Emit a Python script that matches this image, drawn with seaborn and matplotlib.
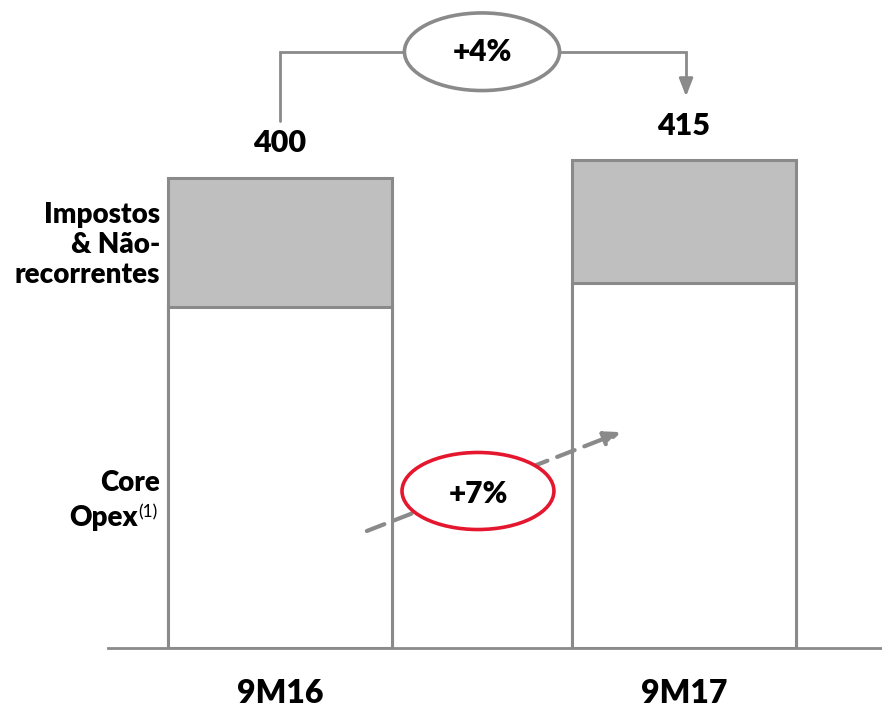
import matplotlib
matplotlib.use("Agg")
import matplotlib.pyplot as plt
from matplotlib.patches import Ellipse
import seaborn as sns
import pandas as pd

# Opex breakdown (R$ million)
periods = ["9M16", "9M17"]
core_opex = [290, 310]
taxes_nonrecurring = [110, 105]
totals = [c + t for c, t in zip(core_opex, taxes_nonrecurring)]
growth_total = "+4%"
growth_core = "+7%"

sns.set_theme(style="white")
plt.rcParams["font.family"] = ["Lato", "DejaVu Sans"]

EDGE = "#8a8a8a"
FILL = "#bfbfbf"
RED = "#e5172f"
BOLD = 800

df = pd.DataFrame({"period": periods, "core": core_opex, "total": totals})

fig = plt.figure(figsize=(8.82, 7.09), dpi=100)
ax = fig.add_axes([108 / 882, 61 / 709, 1 - 108 / 882, 648 / 709])

bar_w = 0.554
sns.barplot(data=df, x="period", y="total", color=FILL, edgecolor=EDGE,
            linewidth=2.2, width=bar_w, saturation=1, ax=ax)
sns.barplot(data=df, x="period", y="core", color="white", edgecolor=EDGE,
            linewidth=2.2, width=bar_w, saturation=1, ax=ax)

ax.set_xlim(-0.4257, 1.490)
ax.set_ylim(0, 551)
ax.set_xlabel("")
ax.set_ylabel("")
ax.set_yticks([])
for s in ["left", "right", "top"]:
    ax.spines[s].set_visible(False)
ax.spines["bottom"].set_color(EDGE)
ax.spines["bottom"].set_linewidth(2)
ax.tick_params(axis="x", length=0, pad=22)
for lbl in ax.get_xticklabels():
    lbl.set_fontsize(23)
    lbl.set_fontweight(BOLD)
    lbl.set_color("black")

# Total labels above bars
for i, tot in enumerate(totals):
    ax.text(i, tot + 29, f"{tot}", ha="center", va="center",
            fontsize=22, fontweight=BOLD, color="black")

# Growth bracket between totals
br_y = 507
ax.plot([0, 0, 0.5], [totals[0] + 48, br_y, br_y], color=EDGE, lw=2, zorder=3,
        solid_joinstyle="miter")
ax.plot([0.5, 1.005, 1.005], [br_y, br_y, totals[1] + 66], color=EDGE, lw=2,
        zorder=3, solid_joinstyle="miter")
ax.annotate("", xy=(1.005, totals[1] + 54), xytext=(1.005, totals[1] + 68),
            arrowprops=dict(arrowstyle="-|>,head_length=0.9,head_width=0.35",
                            color=EDGE, lw=2, shrinkA=0, shrinkB=0), zorder=3)
ax.add_patch(Ellipse((0.5, br_y), 0.384, 66, facecolor="white",
                     edgecolor=EDGE, lw=2.6, zorder=4))
ax.text(0.5, br_y, growth_total, ha="center", va="center", fontsize=21.5,
        fontweight=BOLD, color="black", zorder=5)

# Core opex growth arrow
ax.annotate("", xy=(0.844, 183.6), xytext=(0.215, 99.5),
            arrowprops=dict(arrowstyle="-|>,head_length=0.8,head_width=0.35",
                            color=EDGE, lw=3, linestyle=(0, (4.5, 2.5)),
                            shrinkA=0, shrinkB=0), zorder=3)
ax.add_patch(Ellipse((0.49, 133.5), 0.376, 65.5, facecolor="white",
                     edgecolor=RED, lw=2.6, zorder=4))
ax.text(0.49, 131, growth_core, ha="center", va="center", fontsize=21.5,
        fontweight=BOLD, color="black", zorder=5)

# Segment labels on the left
lx = -0.297
ax.text(lx, (648 - 245) / 1.17625, "Impostos\n& Não-\nrecorrentes", ha="right",
        va="center", fontsize=20, fontweight=BOLD, color="black",
        linespacing=1.2)
ax.text(lx, (648 - 483) / 1.17625, "Core", ha="right", va="center",
        fontsize=20, fontweight=BOLD, color="black")
ax.text(-0.352, (648 - 518) / 1.17625, "Opex", ha="right", va="center",
        fontsize=20, fontweight=BOLD, color="black")
ax.text(-0.350, (648 - 512) / 1.17625, "(1)", ha="left", va="center",
        fontsize=12.5, color="black")

fig.savefig("out.png", dpi=100)
